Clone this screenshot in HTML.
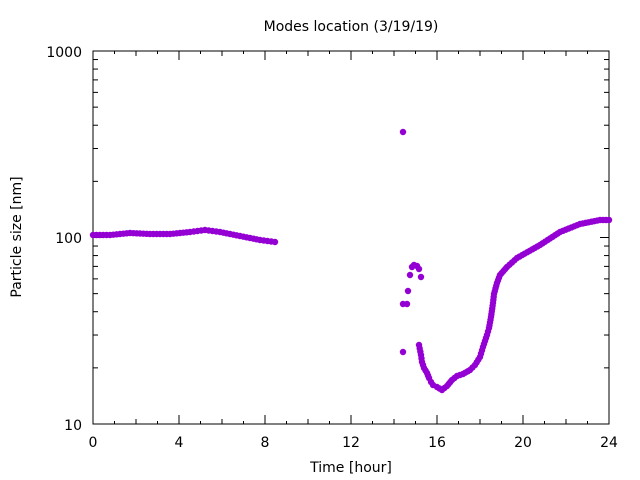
<!DOCTYPE html>
<html><head><meta charset="utf-8"><style>
body{margin:0;background:#fff;}
svg{display:block;font-family:"DejaVu Sans","Liberation Sans",sans-serif;}
</style></head><body>
<svg id="s" width="640" height="480" xmlns="http://www.w3.org/2000/svg">
<rect width="640" height="480" fill="#fff"/>
<text x="351" y="31" font-size="14" text-anchor="middle">Modes location (3/19/19)</text>
<rect x="93" y="51" width="516" height="373" fill="none" stroke="#000" stroke-width="1"/>
<g id="ticks" stroke="#000" stroke-width="1"></g>
<g font-size="14" text-anchor="end">
<text x="82" y="57">1000</text>
<text x="82" y="243">100</text>
<text x="82" y="430">10</text>
</g>
<g id="xl" font-size="14" text-anchor="middle"></g>
<text x="351" y="472" font-size="14" text-anchor="middle">Time [hour]</text>
<text transform="translate(21,237) rotate(-90)" font-size="14" text-anchor="middle">Particle size [nm]</text>
<g id="pts" fill="#9400d3"></g>
</svg>
<script>
var NS="http://www.w3.org/2000/svg";
function el(p,t,a){var e=document.createElementNS(NS,t);for(var k in a)e.setAttribute(k,a[k]);document.getElementById(p).appendChild(e);return e;}
for(var h=0;h<=24;h+=1){var x=93+h*21.5;
 var L=(h%4==0)?9:(h%2==0?5:3);
 el("ticks","line",{x1:x,y1:424,x2:x,y2:424-L});el("ticks","line",{x1:x,y1:51,x2:x,y2:51+L});
 if(h%4==0){var t=el("xl","text",{x:x,y:447});t.textContent=h;}
}
for(var d=0;d<2;d++){for(var m=1;m<=10;m++){var y=424-(d+Math.log10(m))*186.5;var L=(m==1||m==10)?9:5;
 el("ticks","line",{x1:93,y1:y,x2:93+L,y2:y});el("ticks","line",{x1:609,y1:y,x2:609-L,y2:y});}}
function dot(x,y){el("pts","circle",{cx:x,cy:y,r:3.2});}
function path(c,step){for(var i=0;i<c.length-1;i++){var a=c[i],b=c[i+1];var dx=b[0]-a[0],dy=b[1]-a[1];var n=Math.max(1,Math.round(Math.sqrt(dx*dx+dy*dy)/step));for(var j=0;j<n;j++)dot(a[0]+dx*j/n,a[1]+dy*j/n);}dot(c[c.length-1][0],c[c.length-1][1]);}
path([[93,235],[110,235],[130,233],[150,234],[170,234],[190,232],[205,230],[220,232],[240,236],[260,240],[275,242]],3.4);
[[403,132],[403,352],[403,304],[407,304],[408,291],[410,275],[412,267],[414,265],[417,266],[419,269],[421,277]].forEach(function(p){dot(p[0],p[1]);});
path([[419,345],[421,355],[422,362],[424,368],[427,373],[429,378],[431,382],[433,385],[437,387],[442,390],[447,386],[452,380],[457,376],[463,374],[470,370],[475,365],[480,357],[483,347],[487,335],[489,328],[491,317],[493,303],[494,294],[497,283],[500,275],[507,267],[517,258],[540,245],[560,232],[580,224],[600,220],[609,220]],3);
</script>
</body></html>
